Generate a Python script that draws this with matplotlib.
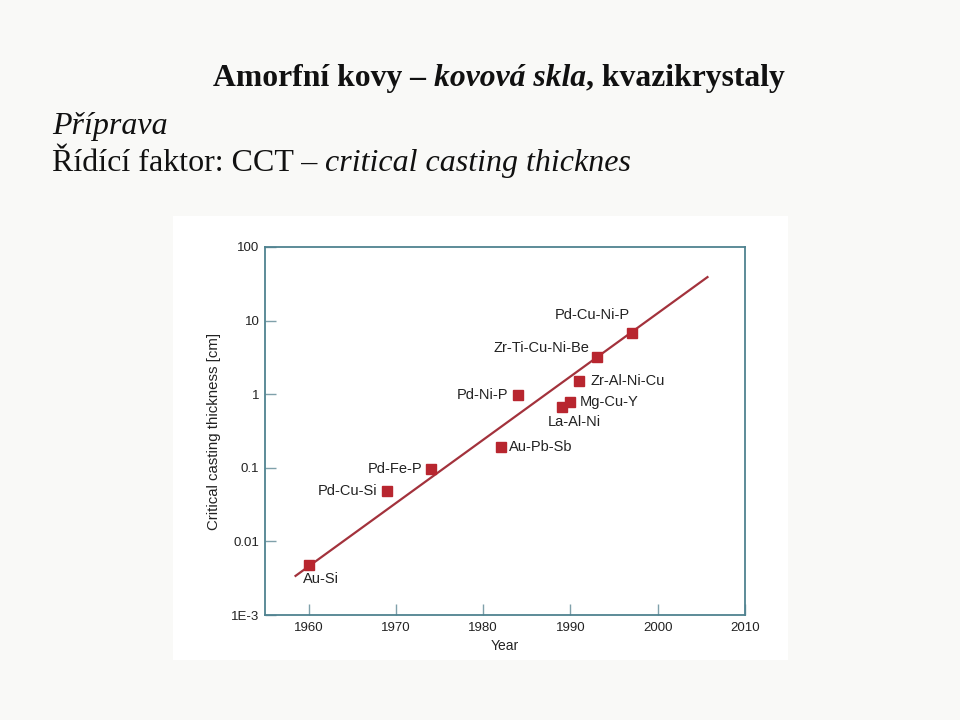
import matplotlib

matplotlib.use("Agg")
import matplotlib.pyplot as plt
from matplotlib.patches import Rectangle

# --- data ---
alloys = ["Au-Si", "Pd-Cu-Si", "Pd-Fe-P", "Au-Pb-Sb", "Pd-Ni-P",
          "La-Al-Ni", "Mg-Cu-Y", "Zr-Al-Ni-Cu", "Zr-Ti-Cu-Ni-Be", "Pd-Cu-Ni-P"]
years = [1960, 1969, 1974, 1982, 1984, 1989, 1990, 1991, 1993, 1997]
cct_cm = [0.0048, 0.049, 0.095, 0.19, 0.98, 0.68, 0.79, 1.52, 3.16, 6.8]

trend_years = [1958.5, 2005.7]
trend_cct = [0.0034, 39]

x_ticks = [1960, 1970, 1980, 1990, 2000, 2010]
y_ticks = [1e-3, 1e-2, 1e-1, 1, 10, 100]
y_tick_labels = ["1E-3", "0.01", "0.1", "1", "10", "100"]

# label placement (offset in points, horizontal alignment)
label_style = {
    "Au-Si": ((-4, -10), "left"),
    "Pd-Cu-Si": ((-7, 0), "right"),
    "Pd-Fe-P": ((-6, 0), "right"),
    "Au-Pb-Sb": ((6, 0), "left"),
    "Pd-Ni-P": ((-7, 0), "right"),
    "La-Al-Ni": ((-10, -11), "left"),
    "Mg-Cu-Y": ((7, 0), "left"),
    "Zr-Al-Ni-Cu": ((8, 0), "left"),
    "Zr-Ti-Cu-Ni-Be": ((-5, 6.5), "right"),
    "Pd-Cu-Ni-P": ((-1, 13), "right"),
}

SPINE = "#4f8290"
TICK = "#7fa0aa"
RED = "#b8262f"
LINE = "#a3323c"
SLIDE_BG = "#f9f9f7"

fig = plt.figure(figsize=(9.6, 7.2), dpi=100, facecolor=SLIDE_BG)

# white panel behind the chart picture
fig.patches.append(Rectangle((173 / 960, 1 - 660 / 720), 615 / 960, 444 / 720,
                             transform=fig.transFigure, facecolor="white",
                             edgecolor="none", zorder=-1))


def rich_line(x, y, parts, size):
    """Draw text parts one after another on one baseline (figure pixels)."""
    renderer = fig.canvas.get_renderer()
    cur = x
    for txt, weight, style in parts:
        t = fig.text(cur / 960, 1 - y / 720, txt, fontsize=size,
                     family="Liberation Serif", weight=weight, style=style,
                     va="baseline", ha="left", color="#111111")
        cur = t.get_window_extent(renderer).x1


rich_line(213, 86, [("Amorfní kovy – ", "bold", "normal"),
                    ("kovová skla", "bold", "italic"),
                    (", kvazikrystaly", "bold", "normal")], 22.8)
rich_line(52, 134, [("Příprava", "normal", "italic")], 23)
rich_line(52, 171, [("Řídící faktor: CCT – ", "normal", "normal"),
                    ("critical casting thicknes", "normal", "italic")], 23)

ax = fig.add_axes([265 / 960, 1 - 615 / 720, 480 / 960, 368 / 720])
ax.set_facecolor("white")
ax.set_yscale("log")
ax.set_xlim(1955, 2010)
ax.set_ylim(1e-3, 100)

ax.plot(trend_years, trend_cct, color=LINE, lw=1.6, zorder=2)
ax.plot(years, cct_cm, "s", color=RED, ms=6.5, zorder=3)

for name, yr, val in zip(alloys, years, cct_cm):
    offset, ha = label_style[name]
    ax.annotate(name, (yr, val), xytext=offset, textcoords="offset points",
                ha=ha, va="center", fontsize=10.5, family="Liberation Sans",
                color="#222222")

ax.set_xticks(x_ticks)
ax.set_xticklabels([str(v) for v in x_ticks])
ax.set_yticks(y_ticks)
ax.set_yticklabels(y_tick_labels)
ax.minorticks_off()
ax.tick_params(direction="in", length=8, width=1, color=TICK,
               labelsize=9.5, labelcolor="#222222", pad=5)
ax.tick_params(axis="y", pad=4)
for lab in ax.get_xticklabels() + ax.get_yticklabels():
    lab.set_family("Liberation Sans")
for sp in ax.spines.values():
    sp.set_color(SPINE)
    sp.set_linewidth(1.3)

ax.set_xlabel("Year", fontsize=10, family="Liberation Sans", color="#222222",
              labelpad=4)
ax.set_ylabel("Critical casting thickness [cm]", fontsize=10.8,
              family="Liberation Sans", color="#222222", labelpad=7)

fig.savefig("out.png", dpi=100, facecolor=SLIDE_BG)
